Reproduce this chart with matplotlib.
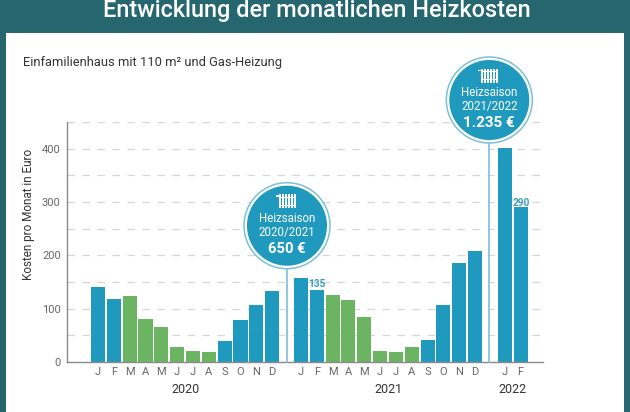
import matplotlib
matplotlib.use('Agg')
import matplotlib.pyplot as plt
from matplotlib.patches import Circle, Rectangle

plt.rcParams['font.family'] = ['Roboto', 'DejaVu Sans']

months = ['J', 'F', 'M', 'A', 'M', 'J', 'J', 'A', 'S', 'O', 'N', 'D']
months_2022 = ['J', 'F']
kosten_2020 = [140, 118, 123, 80, 66, 28, 21, 18, 39, 79, 106, 134]
kosten_2021 = [157, 135, 126, 116, 84, 21, 19, 28, 41, 107, 185, 209]
kosten_2022 = [402, 290]
# Farben je Monat: g = ausserhalb der Heizsaison
farben_2020 = 'bbgggggg' + 'bbbb'
farben_2021 = 'bbggggggb' + 'bbb'
farben_2022 = 'bb'
yticks = [0, 100, 200, 300, 400]
ygrid = [50, 100, 150, 200, 250, 300, 350, 400, 450]

BLUE = '#1f99bd'
GREEN = '#6bb562'
TEAL = '#25666f'
LIGHT = '#7cc0d6'
W, H = 630, 412

# Startpositionen der Jahresgruppen in Balkenbreiten
start_2021 = 12.82
start_2022 = 25.7
step = 15.83
x0 = 98

fig = plt.figure(figsize=(W / 100, H / 100), dpi=100, facecolor='white')

# Hintergrund in Pixelkoordinaten
bg = fig.add_axes([0, 0, 1, 1])
bg.set_xlim(0, W)
bg.set_ylim(H, 0)
bg.axis('off')
bg.add_patch(Rectangle((0, 0), W, 32.5, color=TEAL, lw=0))
bg.add_patch(Rectangle((0, 0), 6, H, color=TEAL, lw=0))
bg.add_patch(Rectangle((624, 0), 6, H, color=TEAL, lw=0))
bg.text(317, 16.5, 'Entwicklung der monatlichen Heizkosten', color='white', fontsize=16.9,
        ha='center', va='baseline', fontweight='medium')
bg.text(23, 66, 'Einfamilienhaus mit 110 m² und Gas-Heizung', color='#333333', fontsize=9.25,
        ha='left', va='baseline')
bg.text(28.5, 214.5, 'Kosten pro Monat in Euro', color='#333333', fontsize=8.5, rotation=90,
        ha='center', va='center')

# Diagramm
left, right, top, bottom = 67, 543, 122, 362
ax = fig.add_axes([left / W, 1 - bottom / H, (right - left) / W, (bottom - top) / H])
ax.patch.set_alpha(0)
ax.set_xlim((left - x0) / step, (right - x0) / step)
ax.set_ylim(0, 450)

pos_2020 = list(range(12))
pos_2021 = [start_2021 + i for i in range(12)]
pos_2022 = [start_2022 + i for i in range(2)]
for pos, vals, cols in [(pos_2020, kosten_2020, farben_2020),
                        (pos_2021, kosten_2021, farben_2021),
                        (pos_2022, kosten_2022, farben_2022)]:
    ax.bar(pos, vals, width=0.89, zorder=3,
           color=[BLUE if c == 'b' else GREEN for c in cols])

for y in ygrid:
    ax.axhline(y, color='#d6d6d6', lw=0.9, dashes=(6, 6), zorder=1)

for s in ['top', 'right']:
    ax.spines[s].set_visible(False)
for s in ['left', 'bottom']:
    ax.spines[s].set_color('#8a8a8a')
    ax.spines[s].set_linewidth(1.0)
ax.spines['bottom'].set_zorder(4)

ax.set_yticks(yticks)
ax.set_xticks(pos_2020 + pos_2021 + pos_2022)
ax.set_xticklabels(months + months + months_2022)
ax.tick_params(axis='both', length=0, labelsize=8, labelcolor='#666666')
ax.tick_params(axis='x', pad=3.5)
ax.tick_params(axis='y', pad=4.5)

# Jahre
for pos, jahr in [(pos_2020, '2020'), (pos_2021, '2021'), (pos_2022, '2022')]:
    ax.annotate(jahr, ((pos[0] + pos[-1]) / 2, 0), xytext=(0, -19.8), textcoords='offset points',
                ha='center', va='center', fontsize=9, color='#333333')

# Wertelabels
ax.annotate('135', (pos_2021[1], kosten_2021[1]), xytext=(0, 0.4), textcoords='offset points',
            ha='center', va='bottom', fontsize=7.3, fontweight='bold', color='#3b9dbd', zorder=5)
ax.annotate('290', (pos_2022[1], kosten_2022[1]), xytext=(0.7, -0.3), textcoords='offset points',
            ha='center', va='bottom', fontsize=7.3, fontweight='bold', color='#3b9dbd', zorder=5)

# Kreise liegen ueber dem Diagramm
bg2 = fig.add_axes([0, 0, 1, 1])
bg2.set_xlim(0, W)
bg2.set_ylim(H, 0)
bg2.axis('off')
bg2.patch.set_alpha(0)


def heizkoerper(cx, cy):
    # kleines Heizkoerper-Symbol aus Rechtecken
    for i in range(6):
        bg2.add_patch(Rectangle((cx - 8 + i * 3, cy - 7), 1.9, 14, color='white', lw=0, zorder=5))
    bg2.add_patch(Rectangle((cx - 8, cy - 4.5), 17, 1, color='white', lw=0, zorder=5))
    bg2.add_patch(Rectangle((cx - 8, cy + 3.5), 17, 1, color='white', lw=0, zorder=5))
    bg2.add_patch(Rectangle((cx - 11, cy - 6), 3, 1.6, color='white', lw=0, zorder=5))


for cx, cy, zeile2, betrag, fs in [(287, 225.7, '2020/2021', '650 €', 10.6),
                                   (489.3, 100, '2021/2022', '1.235 €', 11)]:
    bg2.plot([cx, cx], [cy + 43, 362], color=LIGHT, lw=1.2, zorder=1)
    bg2.add_patch(Circle((cx, cy), 43, fc='white', ec=LIGHT, lw=1.1, zorder=2))
    bg2.add_patch(Circle((cx, cy), 40, fc=BLUE, ec='none', zorder=3))
    heizkoerper(cx, cy - 24.3)
    bg2.text(cx, cy - 7.5, 'Heizsaison', color='white', fontsize=8.3, ha='center', va='center', zorder=4)
    bg2.text(cx, cy + 6.5, zeile2, color='white', fontsize=8.3, ha='center', va='center', zorder=4)
    bg2.text(cx, cy + 23, betrag, color='white', fontsize=fs, fontweight='bold', ha='center', va='center', zorder=4)

fig.savefig('out.png', dpi=100)
